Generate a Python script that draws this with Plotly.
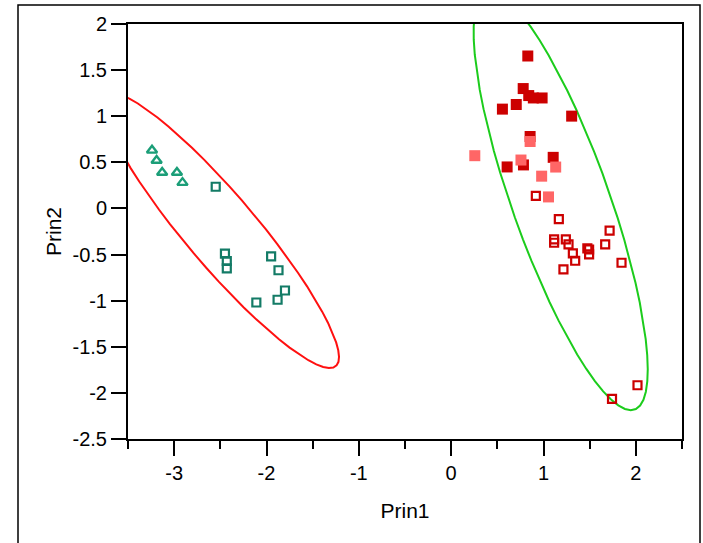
import numpy as np
import plotly.graph_objects as go

# ---- data ----
left_tri_x = [-3.24, -3.19, -3.13, -2.97, -2.91]
left_tri_y = [0.63, 0.52, 0.39, 0.39, 0.28]

left_sq_x = [-2.55, -2.45, -2.43, -2.43, -1.95, -1.87, -1.80, -1.88, -2.11]
left_sq_y = [0.235, -0.49, -0.57, -0.65, -0.52, -0.67, -0.89, -0.99, -1.02]

right_dark_x = [0.83, 0.78, 0.84, 0.89, 0.985, 0.705, 0.555, 1.305, 0.855, 1.105, 0.606, 0.783]
right_dark_y = [1.653, 1.30, 1.224, 1.198, 1.198, 1.127, 1.077, 1.001, 0.78, 0.554, 0.45, 0.472]

right_light_x = [0.256, 0.855, 0.756, 1.132, 0.98, 1.054]
right_light_y = [0.572, 0.726, 0.525, 0.449, 0.35, 0.125]

right_open_x = [0.917, 1.166, 1.115, 1.115, 1.242, 1.271, 1.318, 1.343, 1.216, 1.475, 1.494,
                1.494, 1.668, 1.716, 1.845, 2.018, 1.742]
right_open_y = [0.137, -0.115, -0.335, -0.372, -0.335, -0.39, -0.487, -0.567, -0.661, -0.433,
                -0.445, -0.497, -0.39, -0.24, -0.589, -1.917, -2.065]

x_ticks = [-3, -2, -1, 0, 1, 2]
x_minor = [-3.5, -2.5, -1.5, -0.5, 0.5, 1.5, 2.5]
y_ticks = [-2.5, -2, -1.5, -1, -0.5, 0, 0.5, 1, 1.5, 2]
ELLIPSE_P = 0.95


def fmt(v):
    return "%g" % v


def density_ellipse(xs, ys, p, n=60):
    pts = np.column_stack([xs, ys])
    mu = pts.mean(axis=0)
    S = np.cov(pts.T)
    c2 = -2.0 * np.log(1.0 - p)
    vals, vecs = np.linalg.eigh(S)
    t = np.linspace(0, 2 * np.pi, n)
    circ = np.vstack([np.cos(t), np.sin(t)])
    e = vecs @ np.diag(np.sqrt(vals * c2)) @ circ
    return mu[0] + e[0], mu[1] + e[1]


# the dimmed (light) rows are not used in the ellipse fit
lx, ly = density_ellipse(left_tri_x + left_sq_x, left_tri_y + left_sq_y, ELLIPSE_P)
rx, ry = density_ellipse(right_dark_x + right_open_x, right_dark_y + right_open_y, ELLIPSE_P)

fig = go.Figure()
fig.add_trace(go.Scatter(x=lx, y=ly, mode="lines", line=dict(color="#ff1010", width=2),
                         hoverinfo="skip"))
fig.add_trace(go.Scatter(x=rx, y=ry, mode="lines", line=dict(color="#1ccc1c", width=2),
                         hoverinfo="skip"))
fig.add_trace(go.Scatter(x=left_tri_x, y=left_tri_y, mode="markers",
                         marker=dict(symbol="triangle-up-open", size=9, color="#1b9e78",
                                     line=dict(width=2.4, color="#1b9e78"))))
fig.add_trace(go.Scatter(x=left_sq_x, y=left_sq_y, mode="markers",
                         marker=dict(symbol="square-open", size=8, color="#137b66",
                                     line=dict(width=2.2, color="#137b66"))))
fig.add_trace(go.Scatter(x=right_open_x, y=right_open_y, mode="markers",
                         marker=dict(symbol="square-open", size=8, color="#cc0000",
                                     line=dict(width=2.2, color="#cc0000"))))
fig.add_trace(go.Scatter(x=right_dark_x, y=right_dark_y, mode="markers",
                         marker=dict(symbol="square", size=11, color="#cc0000",
                                     line=dict(width=0))))
fig.add_trace(go.Scatter(x=right_light_x, y=right_light_y, mode="markers",
                         marker=dict(symbol="square", size=11, color="#ff6666",
                                     line=dict(width=0))))

font = "Liberation Sans, Arial, sans-serif"
PL, PR, PT, PB = 128, 682, 24, 439
W, H = 703, 543
pw, ph = PR - PL, PB - PT

fig.update_layout(
    width=W, height=H,
    margin=dict(l=PL, r=W - PR, t=PT, b=H - PB),
    paper_bgcolor="white", plot_bgcolor="white",
    showlegend=False,
    font=dict(family=font, size=20, color="black"),
    xaxis=dict(range=[-3.5, 2.5], tickmode="array", tickvals=x_ticks,
               ticktext=[fmt(v) for v in x_ticks],
               ticks="outside", ticklen=15, tickwidth=2, tickcolor="black",
               minor=dict(tickmode="array", tickvals=x_minor, ticks="outside",
                          ticklen=8, tickwidth=2, tickcolor="black"),
               showline=True, linewidth=2, linecolor="black", mirror=True,
               showgrid=False, zeroline=False,
               title=dict(text="Prin1", font=dict(size=21), standoff=20)),
    yaxis=dict(range=[-2.5, 2], tickmode="array", tickvals=y_ticks,
               ticktext=[fmt(v) for v in y_ticks],
               ticks="outside", ticklen=15, tickwidth=2, tickcolor="black",
               showline=True, linewidth=2, linecolor="black", mirror=True,
               showgrid=False, zeroline=False,
               title=dict(text="Prin2", font=dict(size=21), standoff=5)),
)

fig.add_shape(type="rect", xref="paper", yref="paper",
              x0=(18 - PL) / pw, x1=(700 - PL) / pw,
              y0=(PB - 560) / ph, y1=1 + (PT - 5) / ph,
              line=dict(color="black", width=1.5), fillcolor="rgba(0,0,0,0)", layer="below")

fig.write_html("out.html")
